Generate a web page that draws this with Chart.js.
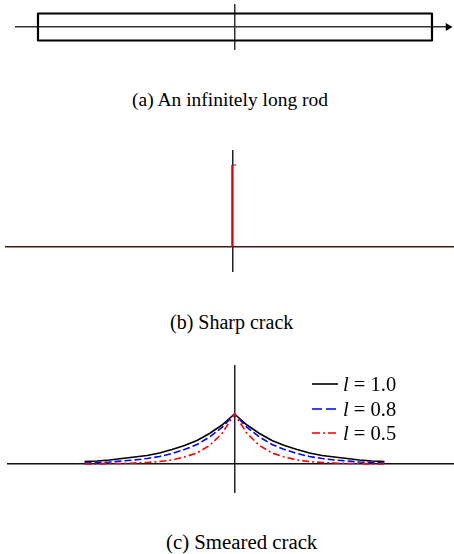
<!DOCTYPE html>
<html>
<head>
<meta charset="utf-8">
<script src="https://cdn.jsdelivr.net/npm/chart.js@4.4.1/dist/chart.umd.min.js"></script>
<style>
  body { margin: 0; background: #fff; width: 454px; height: 554px; position: relative; overflow: hidden;
         font-family: "Liberation Serif", "Times New Roman", serif; color: #000; }
  canvas { position: absolute; }
  .cap { position: absolute; white-space: nowrap; }
  .key { position: absolute; left: 312px; height: 22px; line-height: 22px; font-size: 20.5px; white-space: nowrap; }
  .key svg { vertical-align: top; margin-right: 5px; }
</style>
</head>
<body>
<canvas id="rod" width="439" height="46" style="left:15px;top:4px"></canvas>
<div class="cap" style="left:132px;top:89px;font-size:19.5px">(a) An infinitely long rod</div>

<canvas id="sharp" width="449" height="122" style="left:5px;top:150px"></canvas>
<div class="cap" style="left:170px;top:311px;font-size:20px">(b) Sharp crack</div>

<canvas id="smeared" width="447" height="128" style="left:7px;top:365px"></canvas>
<div class="key" style="top:373px"><svg width="26" height="22"><line x1="0" y1="11" x2="26" y2="11" stroke="#000" stroke-width="1.6"/></svg><i>l</i> = 1.0</div>
<div class="key" style="top:398px"><svg width="26" height="22"><line x1="0" y1="11" x2="26" y2="11" stroke="#0000ff" stroke-width="1.6" stroke-dasharray="10,4"/></svg><i>l</i> = 0.8</div>
<div class="key" style="top:422px"><svg width="26" height="22"><line x1="0" y1="11" x2="26" y2="11" stroke="#ff0000" stroke-width="1.6" stroke-dasharray="8,3,2,3"/></svg><i>l</i> = 0.5</div>
<div class="cap" style="left:166px;top:530px;font-size:20.8px">(c) Smeared crack</div>

<script>
// (a) rod outline, in plot units
const rodX = [-4, 4, 4, -4, -4];
const rodY = [-1, -1, 1, 1, -1];

// (b) sharp crack: unit spike at the origin
const sharpX = [-0.02, -0.02];
const sharpY = [0, 1];

// (c) smeared crack profiles, right half (mirrored for x < 0)
const xs = [0, 0.25, 0.5, 0.75, 1, 1.25, 1.5, 1.75, 2, 2.25, 2.5, 2.75, 3];
const phi10 = [1, 0.78, 0.61, 0.47, 0.37, 0.29, 0.22, 0.17, 0.14, 0.11, 0.08, 0.06, 0.05];
const phi08 = [1, 0.73, 0.54, 0.39, 0.29, 0.21, 0.15, 0.11, 0.08, 0.06, 0.04, 0.03, 0.02];
const phi05 = [1, 0.61, 0.37, 0.22, 0.14, 0.08, 0.05, 0.03, 0.02, 0.01, 0.01, 0.0, 0.0];

// axis through zero, drawn with the scale's own grid line
function zeroAxis(min, max, color, width) {
  return {
    type: "linear",
    min: min,
    max: max,
    ticks: { display: false, stepSize: 1 },
    border: { display: false },
    grid: {
      drawTicks: false,
      color: (c) => (c.tick && c.tick.value === 0 ? color : "transparent"),
      lineWidth: (c) => (c.tick && c.tick.value === 0 ? width : 0),
    },
  };
}

function baseOptions(x, y, padding) {
  return {
    responsive: false,
    animation: false,
    layout: { padding: padding || 0, autoPadding: false },
    plugins: { legend: { display: false }, tooltip: { enabled: false } },
    scales: { x: x, y: y },
  };
}

function mirrored(vals) {
  const pts = [];
  for (let i = xs.length - 1; i > 0; i--) pts.push({ x: -xs[i], y: vals[i] });
  for (let i = 0; i < xs.length; i++) pts.push({ x: xs[i], y: vals[i] });
  return pts;
}

// (a) rod on the x axis, arrow head at the right end
new Chart("rod", {
  type: "scatter",
  data: {
    datasets: [
      {
        data: rodX.map((x, i) => ({ x: x, y: rodY[i] })),
        showLine: true,
        borderColor: "#000",
        borderWidth: 2.2,
        borderJoinStyle: "round",
        pointRadius: 0,
      },
      {
        data: [{ x: 4.325, y: 0 }],
        pointStyle: "triangle",
        rotation: 90,
        pointRadius: 4.5,
        backgroundColor: "#000",
        borderColor: "#000",
        borderWidth: 0,
        clip: false,
      },
    ],
  },
  options: baseOptions(
    zeroAxis(-4.467, 4.325, "#333", 1.5),
    zeroAxis(-1.704, 1.704, "#333", 1.5),
    { right: 6 }
  ),
});

// (b) sharp crack
new Chart("sharp", {
  type: "scatter",
  data: {
    datasets: [
      {
        data: sharpX.map((x, i) => ({ x: x, y: sharpY[i] })),
        showLine: true,
        borderColor: "#ff0000",
        borderWidth: 1.6,
        pointRadius: 0,
      },
      {
        data: [{ x: 0, y: 1 }, { x: 0.07, y: 1 }],
        showLine: true,
        borderColor: "#444",
        borderWidth: 1,
        pointRadius: 0,
      },
    ],
  },
  options: baseOptions(zeroAxis(-4.56, 4.42, "#222", 1.5), zeroAxis(-0.305, 1.183, "#4b1515", 1.6)),
});

// (c) smeared crack
new Chart("smeared", {
  type: "scatter",
  data: {
    datasets: [
      { data: mirrored(phi10), borderColor: "#000", borderDash: [], order: 3 },
      { data: mirrored(phi08), borderColor: "#0000ff", borderDash: [7, 3], order: 2 },
      { data: mirrored(phi05), borderColor: "#ff0000", borderDash: [7, 3, 2, 3], order: 1 },
    ].map((d) => Object.assign(d, { showLine: true, borderWidth: 1.6, pointRadius: 0, tension: 0 })),
  },
  options: baseOptions(zeroAxis(-4.55, 4.39, "#222", 1.5), zeroAxis(-0.58, 1.98, "#111", 1.5)),
});
</script>
</body>
</html>
